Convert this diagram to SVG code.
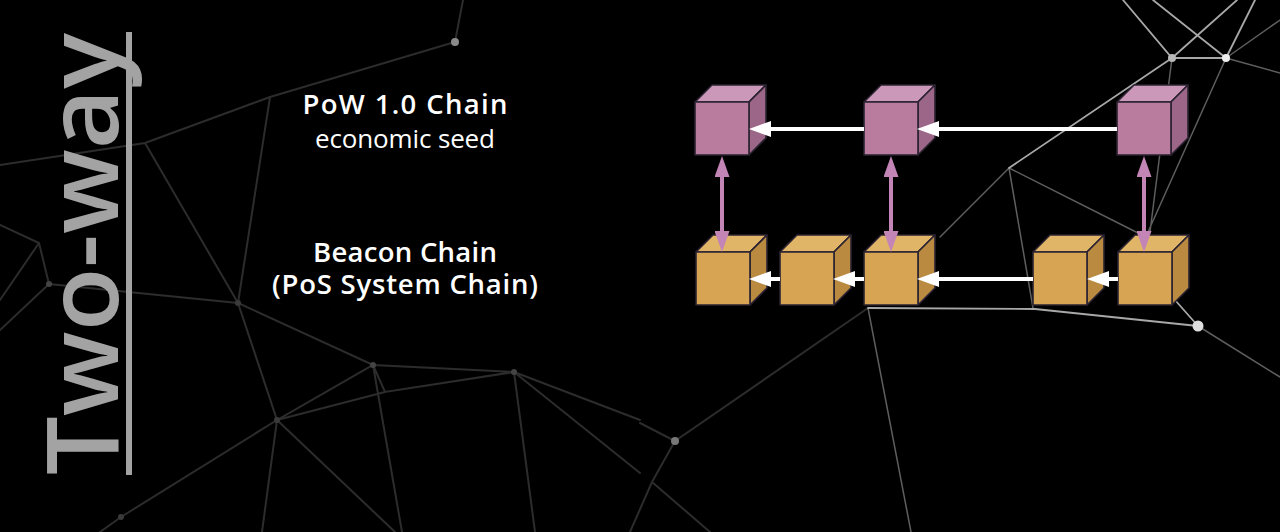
<svg xmlns="http://www.w3.org/2000/svg" width="1280" height="532" viewBox="0 0 1280 532">
<style>
.bgd{stroke:#2c2c2c;stroke-width:2;fill:none;stroke-linecap:round}
.bgm{stroke:#5e5e5e;stroke-width:1.5;fill:none;stroke-linecap:round}
.bgl{stroke:#a8a8a8;stroke-width:1.8;fill:none;stroke-linecap:round}
.pf{fill:#b97c9f}.pt{fill:#cb98ba}.ps{fill:#9b6687}
.gf{fill:#d6a452}.gt{fill:#e0b568}.gs{fill:#b98a40}
.edge{stroke:#2a2230;stroke-width:1.6;stroke-linejoin:round}
.lbl{font-family:"Open Sans","Liberation Sans",sans-serif;fill:#ffffff;text-anchor:middle}
.b{font-weight:600;font-size:27.5px}
.r{font-weight:400;font-size:26px}
.wa{stroke:#ffffff;stroke-width:4;fill:none;marker-end:url(#wh)}
.pa{stroke:#c285b5;stroke-width:4;fill:none;marker-start:url(#ph);marker-end:url(#ph)}
</style>
<defs>
<marker id="wh" viewBox="0 0 22 16" refX="16" refY="8" markerWidth="22" markerHeight="16" markerUnits="userSpaceOnUse" orient="auto"><path d="M0,0 L22,8 L0,16 Z" fill="#ffffff"/></marker>
<marker id="ph" viewBox="0 0 21 15" refX="15" refY="7.5" markerWidth="21" markerHeight="15" markerUnits="userSpaceOnUse" orient="auto-start-reverse"><path d="M0,0 L21,7.5 L0,15 Z" fill="#c285b5"/></marker>
<g id="pcube" class="edge"><path class="pt" d="M0,0 L17,-17 L71,-17 L54,0 Z"/><path class="ps" d="M54,0 L71,-17 L71,36 L54,53 Z"/><rect class="pf" x="0" y="0" width="54" height="53"/></g>
<g id="gcube" class="edge"><path class="gt" d="M0,0 L17,-17 L71,-17 L54,0 Z"/><path class="gs" d="M54,0 L71,-17 L71,36 L54,53 Z"/><rect class="gf" x="0" y="0" width="54" height="53"/></g>
</defs>
<rect width="1280" height="532" fill="#000000"/>
<g id="background">
<path class="bgd" d="M463,0 L455,42 L270,97 L145,143 L0,165 M145,143 L238,303 M270,97 L238,303 M0,225 L39,243 L49,284 L238,303 M39,243 L0,300 M49,284 L0,330 M238,303 L373,365 L514,372 M238,303 L277,420 L373,365 L385,392 L514,372 M277,420 L385,392 M277,420 L121,517 L100,532 M277,420 L262,532 M277,420 L395,532 M373,365 L402,532 M514,372 L640,420 M514,372 L640,473 M514,372 L535,532"/>
<path class="bgd" d="M640,423 L675,441 L652,482 L710,532 M652,482 L630,532 M675,441 L868,308"/>
<path class="bgm" d="M868,308 L911,532 M940,237 L1009,168 M1009,168 L1033,308 M1009,168 L1140,234 M1226,58 L1280,73 M1226,58 L1280,20 M1172,58 L1150,232 M1226,58 L1148,232 M1280,377 L1198,326"/>
<path class="bgl" d="M1123,0 L1172,58 L1226,58 L1255,0 M1172,58 L1237,0 M1153,0 L1226,58 M1172,58 L1009,168 M868,308 L1035,309 L1198,326 L1175,300"/>
<circle cx="455" cy="42" r="4" fill="#8a8a8a"/>
<circle cx="49" cy="284" r="3" fill="#444"/>
<circle cx="238" cy="303" r="3" fill="#3a3a3a"/>
<circle cx="373" cy="365" r="3" fill="#444"/>
<circle cx="514" cy="372" r="3" fill="#444"/>
<circle cx="277" cy="420" r="3" fill="#3a3a3a"/>
<circle cx="121" cy="517" r="3" fill="#3a3a3a"/>
<circle cx="675" cy="441" r="4" fill="#777"/>
<circle cx="1172" cy="58" r="4" fill="#b8b8b8"/>
<circle cx="1226" cy="58" r="4" fill="#eeeeee"/>
<circle cx="1198" cy="326" r="5.5" fill="#e0e0e0"/>
</g>
<g id="title">
<text x="0" y="0" transform="translate(118,475) rotate(-90)" font-family="Open Sans, Liberation Sans, sans-serif" font-size="100" font-weight="600" fill="#a3a3a3" textLength="442" lengthAdjust="spacingAndGlyphs">Two-way</text>
<rect x="126" y="32" width="6" height="443" fill="#a3a3a3"/>
</g>
<g id="label-pow">
<text class="lbl"><tspan class="b" x="405" y="114" textLength="205">PoW 1.0 Chain</tspan><tspan class="r" x="405" y="148" textLength="180">economic seed</tspan></text>
</g>
<g id="label-beacon">
<text class="lbl b"><tspan x="405" y="262" textLength="184">Beacon Chain</tspan><tspan x="405" y="294" textLength="266">(PoS System Chain)</tspan></text>
</g>
<g id="pow1"><use href="#pcube" x="695" y="102"/></g>
<g id="pow2"><use href="#pcube" x="864" y="102"/></g>
<g id="pow3"><use href="#pcube" x="1117" y="102"/></g>
<g id="bc1"><use href="#gcube" x="696" y="252"/></g>
<g id="bc2"><use href="#gcube" x="780" y="252"/></g>
<g id="bc3"><use href="#gcube" x="864" y="252"/></g>
<g id="bc4"><use href="#gcube" x="1033" y="252"/></g>
<g id="bc5"><use href="#gcube" x="1118" y="252"/></g>
<g id="connectors">
<line class="wa" x1="864" y1="129" x2="755" y2="129"/>
<line class="wa" x1="1117" y1="129" x2="923" y2="129"/>
<line class="wa" x1="780" y1="279" x2="755" y2="279"/>
<line class="wa" x1="864" y1="279" x2="839" y2="279"/>
<line class="wa" x1="1033" y1="279" x2="923" y2="279"/>
<line class="wa" x1="1118" y1="279" x2="1093" y2="279"/>
<line class="pa" x1="722" y1="162" x2="722" y2="246"/>
<line class="pa" x1="891" y1="162" x2="891" y2="246"/>
<line class="pa" x1="1144" y1="162" x2="1144" y2="246"/>
</g>
</svg>
